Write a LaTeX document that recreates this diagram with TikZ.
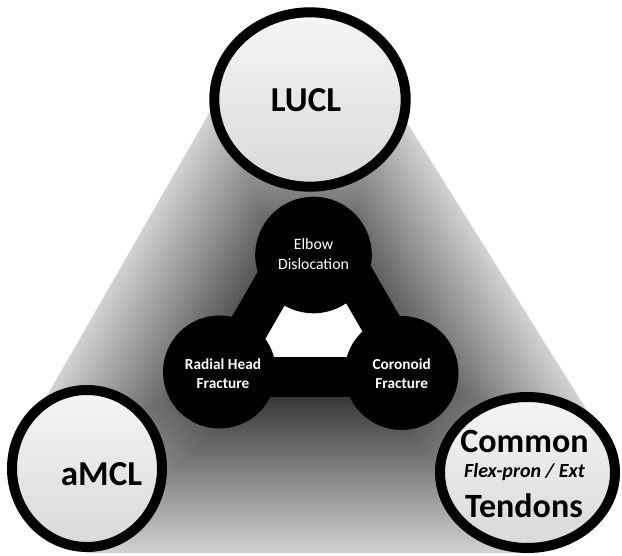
\documentclass[tikz,border=0pt]{standalone}
\usepackage{fontspec}
\setmainfont{Carlito}
\usetikzlibrary{calc,shapes.geometric}
\begin{document}
\begin{tikzpicture}[x=1pt,y=-1pt,
  bigcirc/.style={ellipse, draw=black, line width=10pt, top color=black!4, bottom color=black!15, inner sep=0pt},
  hub/.style={circle, fill=black, inner sep=0pt, minimum size=#1},
  bar/.style={line width=40pt, draw=black},
  bigtxt/.style={font=\bfseries\fontsize{35}{40}\selectfont, anchor=base},
  midtxt/.style={font=\bfseries\fontsize{34}{40}\selectfont, anchor=base},
  smalltxt/.style={text=white, font=\fontsize{15.8}{19}\selectfont, anchor=base},
  smallbold/.style={text=white, font=\bfseries\fontsize{15.3}{19}\selectfont, anchor=base},
]
\useasboundingbox (0,0) rectangle (622,556);
% background region with path gradient
\coordinate (F) at (313,342);
\coordinate (A) at (216.7,100);
\coordinate (B) at (9,462);
\coordinate (C) at (87,553);
\coordinate (D) at (527,553);
\coordinate (E) at (610,447);
\coordinate (G) at (392.8,100);
\foreach \i in {0,...,89}{
  \pgfmathsetmacro\s{1-\i/90}
  \pgfmathsetmacro\p{100-82*\s}
  \fill[black!\p] ($(F)!\s!(A)$) -- ($(F)!\s!(B)$) -- ($(F)!\s!(C)$) -- ($(F)!\s!(D)$) -- ($(F)!\s!(E)$) -- ($(F)!\s!(G)$) -- cycle;
}
% white centre
\coordinate (TA) at (316,211.1);
\coordinate (LB) at (220.2,377);
\coordinate (RB) at (411.8,377);
\coordinate (LT) at (287.7,260);
\coordinate (RT) at (344.3,260);
\fill[white] (TA) -- (LB) -- (RB) -- cycle;
% bars
\draw[bar] (LB) -- (LT);
\draw[bar] (RB) -- (RT);
\draw[bar] (LB) -- (RB);
% hubs
\node[hub=116.6pt] (elbow) at (313.5,255) {};
\node[hub=113pt] (radial) at (219.5,372) {};
\node[hub=114pt] (coronoid) at (401.5,373) {};
% outer circles
\node[bigcirc, minimum width=191.4pt, minimum height=174.4pt] (lucl) at (310,99.5) {};
\node[bigcirc, minimum width=150pt, minimum height=157pt] (amcl) at (87,468.5) {};
\node[bigcirc, minimum width=175pt, minimum height=151pt] (cft) at (527.5,472.5) {};
% texts
\node[bigtxt] (tlucl) at (306,111.7) {LUCL};
\node[bigtxt] (tamcl) at (101.5,485) {aMCL};
\node[midtxt] (tcommon) at (524.5,453) {Common};
\node[anchor=base, font=\bfseries\itshape\fontsize{20}{24}\selectfont] (tflex) at (524.5,478) {Flex-pron / Ext};
\node[midtxt] (ttend) at (524,517) {Tendons};
\node[smalltxt] (te1) at (313.5,250) {Elbow};
\node[smalltxt] (te2) at (313.5,270) {Dislocation};
\node[smallbold] (tr1) at (223,370) {Radial Head};
\node[smallbold] (tr2) at (223,388.3) {Fracture};
\node[smallbold] (tc1) at (401.7,370) {Coronoid};
\node[smallbold] (tc2) at (401.7,388.3) {Fracture};
\end{tikzpicture}
\end{document}
